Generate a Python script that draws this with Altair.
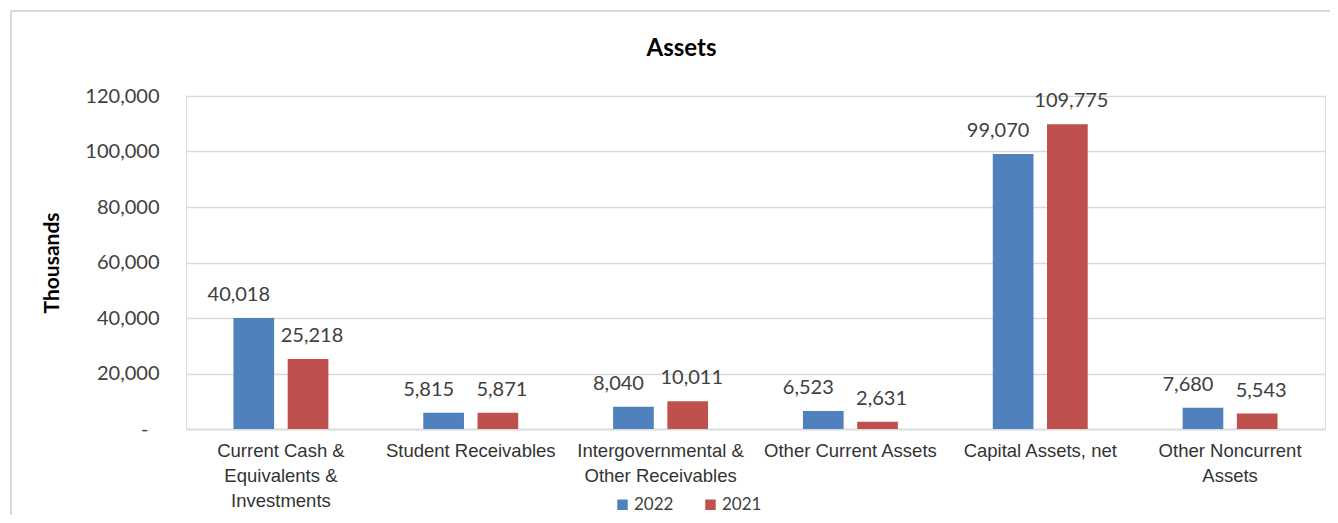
import altair as alt
import pandas as pd

categories = [
    "Current Cash &\nEquivalents &\nInvestments",
    "Student Receivables",
    "Intergovernmental &\nOther Receivables",
    "Other Current Assets",
    "Capital Assets, net",
    "Other Noncurrent\nAssets",
]
series = ["2022", "2021"]
values_2022 = [40018, 5815, 8040, 6523, 99070, 7680]
values_2021 = [25218, 5871, 10011, 2631, 109775, 5543]
y_ticks = [0, 20000, 40000, 60000, 80000, 100000, 120000]
colors = ["#4F81BD", "#C0504D"]

rows = []
for c, a, b in zip(categories, values_2022, values_2021):
    rows.append({"category": c, "year": "2022", "value": a})
    rows.append({"category": c, "year": "2021", "value": b})
df = pd.DataFrame(rows)

PLOT_W, PLOT_H = 1139, 333
TEXT = "#404040"

x_enc = alt.X(
    "category:N",
    sort=categories,
    title=None,
    scale=alt.Scale(paddingInner=0.5, paddingOuter=0.25),
    axis=alt.Axis(
        labelAngle=0,
        labelExpr="split(datum.label, '\\n')",
        labelFont="Liberation Sans",
        labelFontSize=18.5,
        labelLineHeight=25,
        labelLimit=400,
        labelColor="#333333",
        labelPadding=12,
        ticks=False,
        domain=True,
        domainColor="#d9d9d9",
        domainWidth=1.5,
        grid=False,
    ),
)
xoff_enc = alt.XOffset("year:N", sort=series, scale=alt.Scale(paddingInner=0.25, paddingOuter=0))
y_enc = alt.Y(
    "value:Q",
    title="Thousands",
    scale=alt.Scale(domain=[0, 120000], nice=False),
    axis=alt.Axis(
        values=y_ticks,
        labelExpr="datum.value == 0 ? '-' : format(datum.value, ',')",
        labelFont="Lato",
        labelFontSize=20,
        labelColor=TEXT,
        labelPadding={"condition": {"test": "datum.value == 0", "value": 38}, "value": 27},
        ticks=False,
        domain=False,
        grid=True,
        gridColor="#d9d9d9",
        gridWidth=1.5,
        titleFont="Lato",
        titleFontSize=21,
        titleFontWeight="bold",
        titleColor="#000000",
        titlePadding=22,
    ),
)

base = alt.Chart(df)

bars = base.mark_bar().encode(
    x=x_enc,
    xOffset=xoff_enc,
    y=y_enc,
    color=alt.Color(
        "year:N",
        sort=series,
        scale=alt.Scale(domain=series, range=colors),
        legend=alt.Legend(
            orient="none",
            legendX=428,
            legendY=400,
            direction="horizontal",
            title=None,
            symbolType="square",
            symbolSize=110,
            symbolStrokeWidth=0,
            labelFont="Lato",
            labelFontSize=17,
            labelColor=TEXT,
            labelOffset=3,
            columnPadding=28,
            padding=0,
        ),
    ),
)

labels_2022 = base.transform_filter(alt.datum.year == "2022").mark_text(
    baseline="alphabetic", dy=-17, dx=-15, font="Lato", fontSize=20, color=TEXT
).encode(
    x=alt.X("category:N", sort=categories),
    xOffset=alt.XOffset("year:N", sort=series),
    y="value:Q",
    text=alt.Text("value:Q", format=","),
)
labels_2021 = base.transform_filter(alt.datum.year == "2021").mark_text(
    baseline="alphabetic", dy=-17, dx=4, font="Lato", fontSize=20, color=TEXT
).encode(
    x=alt.X("category:N", sort=categories),
    xOffset=alt.XOffset("year:N", sort=series),
    y="value:Q",
    text=alt.Text("value:Q", format=","),
)

frame = alt.Chart(pd.DataFrame({"f": [0]})).mark_rect(
    filled=False, stroke="#d9d9d9", strokeWidth=2
).encode(
    x=alt.value(-175), x2=alt.value(1170), y=alt.value(-85), y2=alt.value(440)
)

chart = alt.layer(frame, bars, labels_2022, labels_2021).properties(
    width=PLOT_W,
    height=PLOT_H,
    autosize=alt.AutoSizeParams(type="none"),
    padding={"left": 178, "top": 88, "right": 5, "bottom": 86},
    title=alt.TitleParams(
        text="Assets",
        font="Lato",
        fontSize=24,
        fontWeight="bold",
        color="#000000",
        anchor="middle",
        frame="group",
        dx=-74,
        baseline="alphabetic",
        offset=0,
        dy=70,
    ),
).configure_view(stroke=None).configure(background="white")

chart.save("out.html", embed_options={"renderer": "svg", "actions": False})
